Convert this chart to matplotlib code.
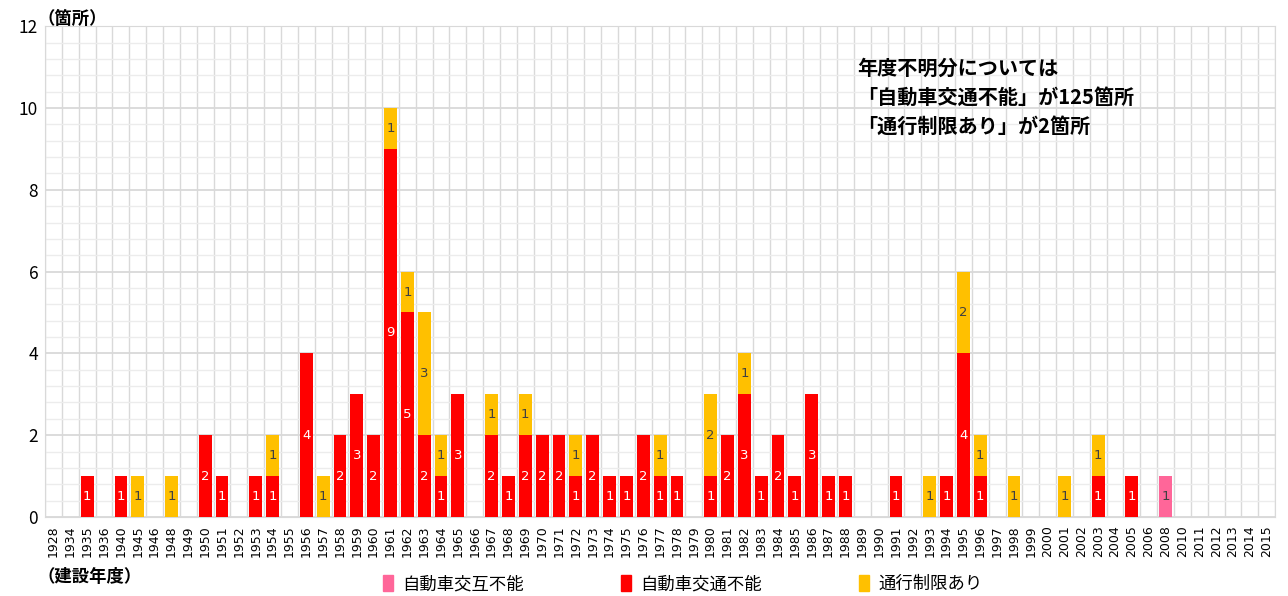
import numpy as np
import matplotlib.pyplot as plt
from matplotlib.patches import Patch

plt.rcParams['font.family'] = ['Noto Sans CJK JP', 'DejaVu Sans']

# 建設年度 (categories)
years = ['1928', '1934', '1935', '1936', '1940', '1945', '1946', '1948', '1949', '1950',
         '1951', '1952', '1953', '1954', '1955', '1956', '1957', '1958', '1959', '1960',
         '1961', '1962', '1963', '1964', '1965', '1966', '1967', '1968', '1969', '1970',
         '1971', '1972', '1973', '1974', '1975', '1976', '1977', '1978', '1979', '1980',
         '1981', '1982', '1983', '1984', '1985', '1986', '1987', '1988', '1989', '1990',
         '1991', '1992', '1993', '1994', '1995', '1996', '1997', '1998', '1999', '2000',
         '2001', '2002', '2003', '2004', '2005', '2006', '2008', '2010', '2011', '2012',
         '2013', '2014', '2015']

# 自動車交互不能
koui = {'2008': 1}
# 自動車交通不能
futsu = {'1935': 1, '1940': 1, '1950': 2, '1951': 1, '1953': 1, '1954': 1, '1956': 4,
         '1958': 2, '1959': 3, '1960': 2, '1961': 9, '1962': 5, '1963': 2, '1964': 1,
         '1965': 3, '1967': 2, '1968': 1, '1969': 2, '1970': 2, '1971': 2, '1972': 1,
         '1973': 2, '1974': 1, '1975': 1, '1976': 2, '1977': 1, '1978': 1, '1980': 1,
         '1981': 2, '1982': 3, '1983': 1, '1984': 2, '1985': 1, '1986': 3, '1987': 1,
         '1988': 1, '1991': 1, '1994': 1, '1995': 4, '1996': 1, '2003': 1, '2005': 1}
# 通行制限あり
seigen = {'1945': 1, '1948': 1, '1954': 1, '1957': 1, '1961': 1, '1962': 1, '1963': 3,
          '1964': 1, '1967': 1, '1969': 1, '1972': 1, '1977': 1, '1980': 2, '1982': 1,
          '1993': 1, '1995': 2, '1996': 1, '1998': 1, '2001': 1, '2003': 1}

series = [
    ('自動車交互不能', np.array([koui.get(y, 0) for y in years]), '#FF6699', '#404040'),
    ('自動車交通不能', np.array([futsu.get(y, 0) for y in years]), '#FF0000', 'white'),
    ('通行制限あり', np.array([seigen.get(y, 0) for y in years]), '#FFC000', '#404040'),
]

fig = plt.figure(figsize=(12.88, 5.96), dpi=100)
ax = fig.add_axes([0.035, 0.1326, 0.955, 0.8234])

x = np.arange(len(years))
bottom = np.zeros(len(years))
handles = []
for name, vals, color, tcol in series:
    ax.bar(x, vals, 0.76, bottom=bottom, color=color, zorder=3)
    for xi, v, b in zip(x, vals, bottom):
        if v > 0:
            ax.text(xi, b + v / 2, str(v), ha='center', va='center',
                    fontsize=9.5, color=tcol, zorder=4, family='DejaVu Sans')
    bottom = bottom + vals
    handles.append(Patch(color=color, label=name))

ax.set_xlim(-0.5, len(years) - 0.5)
ax.set_ylim(0, 12)
ax.set_yticks(np.arange(0, 13, 2))
ax.set_yticks(np.arange(0, 12.01, 0.4), minor=True)
ax.set_xticks(x)
ax.set_xticklabels(years, rotation=90, fontsize=9, family='DejaVu Sans')
ax.set_xticks(np.arange(-0.5, len(years), 1), minor=True)
ax.tick_params(axis='both', which='both', length=0)
ax.tick_params(axis='x', pad=6)
ax.tick_params(axis='y', labelsize=12.5, pad=5)

ax.grid(which='major', axis='y', color='#d9d9d9', lw=1.3, zorder=0)
ax.grid(which='minor', axis='y', color='#ececec', lw=1.0, zorder=0)
ax.grid(which='minor', axis='x', color='#d9d9d9', lw=1.0, zorder=0)
for s in ax.spines.values():
    s.set_color('#d9d9d9')

fig.text(0.029, 0.968, '（箇所）', fontsize=12.5, fontweight='bold', va='center')
fig.text(0.029, 0.032, '（建設年度）', fontsize=12.5, fontweight='bold', va='center')

ax.text(0.66, 0.935, '年度不明分については\n「自動車交通不能」が125箇所\n「通行制限あり」が2箇所',
        transform=ax.transAxes, fontsize=14.5, fontweight='bold', va='top',
        linespacing=1.45, zorder=5)

fig.legend(handles=handles, loc='center', bbox_to_anchor=(0.53, 0.02),
           ncol=3, frameon=False, fontsize=12.5, handlelength=0.6, handleheight=1.0,
           columnspacing=5.6, handletextpad=0.5)

fig.savefig('out.png', dpi=100)
